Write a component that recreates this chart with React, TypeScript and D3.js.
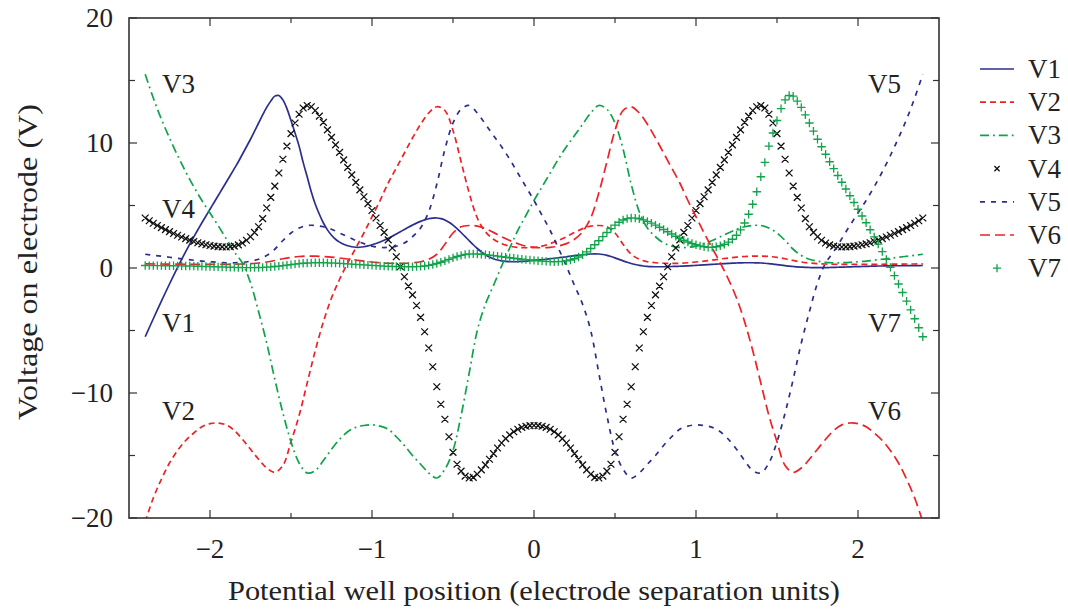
import React from 'react';
import * as d3 from 'd3';

// Electrode positions sampled on two grids (well position, electrode separation units)
const X_FINE: number[] = d3.range(193).map((i) => +(-2.4 + i * 0.025).toFixed(3));
const X_COARSE: number[] = d3.range(97).map((i) => +(-2.4 + i * 0.05).toFixed(2));

// V1 on fine grid
const V1: number[] = [
  -5.50, -4.78, -4.06, -3.35, -2.65, -1.96, -1.28, -0.61, 0.05, 0.69,
  1.31, 1.91, 2.49, 3.06, 3.62, 4.16, 4.70, 5.24, 5.78, 6.32,
  6.86, 7.40, 7.95, 8.50, 9.10, 9.70, 10.30, 10.95, 11.60, 12.25,
  12.85, 13.35, 13.75, 13.80, 13.45, 12.75, 11.80, 10.80, 9.75, 8.45,
  7.30, 6.10, 5.10, 4.30, 3.60, 3.05, 2.62, 2.30, 2.07, 1.90,
  1.78, 1.70, 1.66, 1.66, 1.70, 1.77, 1.86, 1.96, 2.08, 2.22,
  2.37, 2.54, 2.72, 2.90, 3.08, 3.26, 3.43, 3.59, 3.73, 3.85,
  3.94, 3.99, 4.00, 3.95, 3.84, 3.66, 3.43, 3.15, 2.84, 2.51,
  2.18, 1.86, 1.56, 1.29, 1.06, 0.88, 0.74, 0.64, 0.57, 0.53,
  0.51, 0.50, 0.51, 0.53, 0.55, 0.58,
  0.61,
  0.64, 0.67, 0.70, 0.74, 0.78, 0.82, 0.86, 0.90, 0.95, 0.99,
  1.03, 1.07, 1.10, 1.12, 1.13, 1.12, 1.08, 1.01, 0.92, 0.81,
  0.69, 0.57, 0.46, 0.36, 0.28, 0.21, 0.16, 0.13, 0.11, 0.10,
  0.10, 0.10, 0.11, 0.12, 0.13, 0.14, 0.15, 0.17, 0.19, 0.21,
  0.23, 0.25, 0.27, 0.29, 0.31, 0.33, 0.35, 0.37, 0.39, 0.40,
  0.41, 0.42, 0.42, 0.42, 0.41, 0.40, 0.38, 0.35, 0.31, 0.27,
  0.23, 0.19, 0.15, 0.12, 0.09, 0.07, 0.05, 0.04, 0.03, 0.03,
  0.03, 0.03, 0.04, 0.05, 0.06, 0.07, 0.08, 0.09, 0.10, 0.11,
  0.12, 0.13, 0.14, 0.15, 0.16, 0.16, 0.17, 0.17, 0.18, 0.18,
  0.18, 0.19, 0.19, 0.19, 0.19, 0.20,
];

// V2 on coarse grid
const V2: number[] = [
  -20.3, -18.4, -16.9, -15.6, -14.6, -13.8, -13.2, -12.7, -12.45, -12.4,
  -12.55, -13.0, -13.7, -14.5, -15.3, -16.0, -16.35, -15.8, -13.9, -11.8,
  -9.2, -6.6, -4.3, -2.4, -0.9, 0.4, 1.6, 2.8, 4.1, 5.4,
  6.8, 8.0, 9.2, 10.4, 11.5, 12.4, 12.9, 12.6, 11.0, 8.5,
  6.0, 4.0, 2.9, 2.3, 1.95, 1.75, 1.65, 1.62, 1.65,
  1.75, 1.95, 2.2, 2.5, 2.85, 3.15, 3.35, 3.4, 3.3, 2.8,
  1.9, 1.1, 0.7, 0.5, 0.42, 0.38, 0.37, 0.38, 0.42, 0.48,
  0.55, 0.63, 0.72, 0.8, 0.87, 0.92, 0.95, 0.95, 0.92, 0.85,
  0.74, 0.6, 0.48, 0.4, 0.35, 0.32, 0.3, 0.29, 0.29, 0.29,
  0.29, 0.3, 0.3, 0.31, 0.31, 0.32, 0.32, 0.33,
];

// V3 on coarse grid
const V3: number[] = [
  15.5, 13.6, 11.9, 10.4, 9.0, 7.7, 6.5, 5.4, 4.4, 3.4,
  2.35, 1.3, 0.4, -1.2, -3.5, -6.0, -8.9, -11.6, -13.9, -15.6,
  -16.4, -16.2, -15.4, -14.5, -13.7, -13.1, -12.75, -12.6, -12.55, -12.65,
  -12.9, -13.5, -14.2, -15.0, -15.7, -16.4, -16.8, -16.1, -14.6, -11.8,
  -8.4, -5.0, -2.9, -1.4, 0.15, 1.6, 3.0, 4.2, 5.4,
  6.5, 7.6, 8.7, 9.7, 10.6, 11.5, 12.4, 13.0, 12.7, 11.6,
  9.5, 6.7, 4.5, 3.2, 2.5, 2.0, 1.75, 1.65, 1.65, 1.75,
  1.95, 2.2, 2.5, 2.8, 3.1, 3.3, 3.4, 3.4, 3.2, 2.8,
  2.2, 1.5, 1.0, 0.7, 0.55, 0.45, 0.42, 0.42, 0.45, 0.5,
  0.55, 0.62, 0.7, 0.78, 0.86, 0.94, 1.02, 1.1,
];

// V4 on fine grid
const V4: number[] = [
  4.00, 3.78, 3.58, 3.40, 3.23, 3.07, 2.91, 2.76, 2.62, 2.48,
  2.35, 2.23, 2.12, 2.02, 1.93, 1.86, 1.80, 1.75, 1.71, 1.69,
  1.68, 1.70, 1.75, 1.85, 2.00, 2.22, 2.50, 2.85, 3.30, 3.95,
  4.80, 5.65, 6.55, 7.60, 8.70, 9.75, 10.75, 11.60, 12.30, 12.80,
  13.00, 12.90, 12.60, 12.15, 11.65, 11.05, 10.45, 9.85, 9.25, 8.65,
  8.05, 7.45, 6.85, 6.25, 5.70, 5.15, 4.60, 4.00, 3.40, 2.85,
  2.25, 1.60, 0.90, 0.10, -0.70, -1.45, -2.15, -3.00, -3.95, -5.10,
  -6.40, -7.90, -9.50, -10.90, -12.10, -13.50, -14.75, -15.70, -16.25, -16.65,
  -16.80, -16.75, -16.50, -16.15, -15.75, -15.30, -14.85, -14.40, -14.00, -13.65,
  -13.35, -13.10, -12.90, -12.75, -12.66, -12.61,
  -12.60,
  -12.61, -12.66, -12.75, -12.90, -13.10, -13.35,
  -13.65, -14.00, -14.40, -14.85, -15.30, -15.75, -16.15, -16.50, -16.75, -16.80,
  -16.65, -16.25, -15.70, -14.75, -13.50, -12.10, -10.90, -9.50, -7.90, -6.40,
  -5.10, -3.95, -3.00, -2.15, -1.45, -0.70, 0.10, 0.90, 1.60, 2.25,
  2.85, 3.40, 4.00, 4.60, 5.15, 5.70, 6.25, 6.85, 7.45, 8.05,
  8.65, 9.25, 9.85, 10.45, 11.05, 11.65, 12.15, 12.60, 12.90, 13.00,
  12.80, 12.30, 11.60, 10.75, 9.75, 8.70, 7.60, 6.55, 5.65, 4.80,
  3.95, 3.30, 2.85, 2.50, 2.22, 2.00, 1.85, 1.75, 1.70, 1.68,
  1.69, 1.71, 1.75, 1.80, 1.86, 1.93, 2.02, 2.12, 2.23, 2.35,
  2.48, 2.62, 2.76, 2.91, 3.07, 3.23, 3.40, 3.58, 3.78, 4.00,
];

// V5 on coarse grid
const V5: number[] = [
  1.1, 1.02, 0.94, 0.86, 0.78, 0.7, 0.62, 0.55, 0.5, 0.45,
  0.42, 0.42, 0.45, 0.55, 0.7, 1.0, 1.5, 2.2, 2.8, 3.2,
  3.4, 3.4, 3.3, 3.1, 2.8, 2.5, 2.2, 1.95, 1.75, 1.65,
  1.65, 1.75, 2.0, 2.5, 3.2, 4.5, 6.7, 9.5, 11.6, 12.7,
  13.0, 12.4, 11.5, 10.6, 9.7, 8.7, 7.6, 6.5, 5.4,
  4.2, 3.0, 1.6, 0.15, -1.4, -2.9, -5.0, -8.4, -11.8, -14.6,
  -16.1, -16.8, -16.4, -15.7, -15.0, -14.2, -13.5, -12.9, -12.65, -12.55,
  -12.6, -12.75, -13.1, -13.7, -14.5, -15.4, -16.2, -16.4, -15.6, -13.9,
  -11.6, -8.9, -6.0, -3.5, -1.2, 0.4, 1.3, 2.35, 3.4, 4.4,
  5.4, 6.5, 7.7, 9.0, 10.4, 11.9, 13.6, 15.5,
];

// V6 on coarse grid
const V6: number[] = [
  0.33, 0.32, 0.32, 0.31, 0.31, 0.3, 0.3, 0.29, 0.29, 0.29,
  0.29, 0.3, 0.32, 0.35, 0.4, 0.48, 0.6, 0.74, 0.85, 0.92,
  0.95, 0.95, 0.92, 0.87, 0.8, 0.72, 0.63, 0.55, 0.48, 0.42,
  0.38, 0.37, 0.38, 0.42, 0.5, 0.7, 1.1, 1.9, 2.8, 3.3,
  3.4, 3.35, 3.15, 2.85, 2.5, 2.2, 1.95, 1.75, 1.65, 1.62,
  1.65, 1.75, 1.95, 2.3, 2.9, 4.0, 6.0, 8.5, 11.0, 12.6,
  12.9, 12.4, 11.5, 10.4, 9.2, 8.0, 6.8, 5.4, 4.1, 2.8,
  1.6, 0.4, -0.9, -2.4, -4.3, -6.6, -9.2, -11.8, -13.9, -15.8,
  -16.35, -16.0, -15.3, -14.5, -13.7, -13.0, -12.55, -12.4, -12.45, -12.7,
  -13.2, -13.8, -14.6, -15.6, -16.9, -18.4, -20.3,
];

// V7 on fine grid
const V7: number[] = [
  0.20, 0.19, 0.19, 0.19, 0.19, 0.18, 0.18, 0.18, 0.17, 0.17,
  0.16, 0.16, 0.15, 0.14, 0.13, 0.12, 0.11, 0.10, 0.09, 0.08,
  0.07, 0.06, 0.05, 0.04, 0.03, 0.03, 0.03, 0.03, 0.04, 0.05,
  0.07, 0.09, 0.12, 0.15, 0.19, 0.23, 0.27, 0.31, 0.35, 0.38,
  0.40, 0.41, 0.42, 0.42, 0.42, 0.41, 0.40, 0.39, 0.37, 0.35,
  0.33, 0.31, 0.29, 0.27, 0.25, 0.23, 0.21, 0.19, 0.17, 0.15,
  0.14, 0.13, 0.12, 0.11, 0.10, 0.10, 0.10, 0.11, 0.13, 0.16,
  0.21, 0.28, 0.36, 0.46, 0.57, 0.69, 0.81, 0.92, 1.01, 1.08,
  1.12, 1.13, 1.12, 1.10, 1.07, 1.03, 0.99, 0.95, 0.90, 0.86,
  0.82, 0.78, 0.74, 0.70, 0.67, 0.64,
  0.61,
  0.58, 0.55, 0.53, 0.51, 0.50, 0.51, 0.53, 0.57, 0.64, 0.74,
  0.88, 1.06, 1.29, 1.56, 1.86, 2.18, 2.51, 2.84, 3.15, 3.43,
  3.66, 3.84, 3.95, 4.00, 3.99, 3.94, 3.85, 3.73, 3.59, 3.43,
  3.26, 3.08, 2.90, 2.72, 2.54, 2.37, 2.22, 2.08, 1.96, 1.86,
  1.77, 1.70, 1.66, 1.66, 1.70, 1.78, 1.90, 2.07, 2.30, 2.62,
  3.05, 3.60, 4.30, 5.10, 6.10, 7.30, 8.45, 9.75, 10.80, 11.80,
  12.75, 13.45, 13.80, 13.75, 13.35, 12.85, 12.25, 11.60, 10.95, 10.30,
  9.70, 9.10, 8.50, 7.95, 7.40, 6.86, 6.32, 5.78, 5.24, 4.70,
  4.16, 3.62, 3.06, 2.49, 1.91, 1.31, 0.69, 0.05, -0.61, -1.28,
  -1.96, -2.65, -3.35, -4.06, -4.78, -5.50,
];

const SERIES_NAMES = ['V1', 'V2', 'V3', 'V4', 'V5', 'V6', 'V7'];
const X_MAJOR_TICKS = [-2, -1, 0, 1, 2];
const X_MINOR_TICKS = [-1.5, -0.5, 0.5, 1.5];
const X_TICK_LABELS = ['\u22122', '\u22121', '0', '1', '2'];
const Y_MAJOR_TICKS = [-20, -10, 0, 10, 20];
const Y_MINOR_TICKS = [-15, -5, 5, 15];
const Y_TICK_LABELS = ['\u221220', '\u221210', '0', '10', '20'];

const NAVY = '#2b2f8c';
const RED = '#ec2227';
const GREEN = '#10a34a';
const INK = '#222';
const FONT = '"Liberation Serif", "DejaVu Serif", "Times New Roman", serif';

type Style = {
  name: string;
  xs: number[];
  vs: number[];
  color: string;
  dash?: string;
  marker?: 'x' | '+';
};

const STYLES: Style[] = [
  { name: SERIES_NAMES[0], xs: X_FINE, vs: V1, color: NAVY },
  { name: SERIES_NAMES[1], xs: X_COARSE, vs: V2, color: RED, dash: '6,4' },
  { name: SERIES_NAMES[2], xs: X_COARSE, vs: V3, color: GREEN, dash: '9,4,1.8,4' },
  { name: SERIES_NAMES[3], xs: X_FINE, vs: V4, color: '#111', marker: 'x' },
  { name: SERIES_NAMES[4], xs: X_COARSE, vs: V5, color: NAVY, dash: '5,6' },
  { name: SERIES_NAMES[5], xs: X_COARSE, vs: V6, color: RED, dash: '10,5' },
  { name: SERIES_NAMES[6], xs: X_FINE, vs: V7, color: GREEN, marker: '+' },
];

function markerPath(kind: 'x' | '+', cx: number, cy: number, s: number): string {
  if (kind === 'x') {
    return `M${cx - s},${cy - s}L${cx + s},${cy + s}M${cx - s},${cy + s}L${cx + s},${cy - s}`;
  }
  return `M${cx - s},${cy}L${cx + s},${cy}M${cx},${cy - s}L${cx},${cy + s}`;
}

export default function App() {
  const W = 1068;
  const H = 612;
  const L = 129, R = 939, T = 18, B = 518;
  const x = d3.scaleLinear().domain([-2.5, 2.5]).range([L, R]);
  const y = d3.scaleLinear().domain([-20, 20]).range([B, T]);

  const lineFor = (xs: number[], vs: number[]) =>
    d3
      .line<number>()
      .x((_, i) => x(xs[i]))
      .y((v) => y(v))
      .curve(d3.curveCatmullRom.alpha(0.5))(vs) || '';

  const fs = 27;
  const legendX0 = 980, legendX1 = 1014, legendTextX = 1028;
  const legendBase = 78, legendStep = 33.2;

  const inLabels = [
    { t: 'V3', x: 162, y: 93 },
    { t: 'V4', x: 162, y: 218 },
    { t: 'V1', x: 162, y: 332 },
    { t: 'V2', x: 162, y: 420 },
    { t: 'V5', x: 868, y: 93 },
    { t: 'V7', x: 868, y: 332 },
    { t: 'V6', x: 868, y: 420 },
  ];

  const textStyle: React.CSSProperties = { fontFamily: FONT };

  return (
    <div style={{ position: 'absolute', left: 0, top: 0 }}>
      <svg width={W} height={H} style={{ display: 'block', background: '#fff', fontFamily: FONT }}>
        <defs>
          <clipPath id="plotclip">
            <rect x={L} y={T} width={R - L} height={B - T} />
          </clipPath>
        </defs>

        {/* series */}
        <g clipPath="url(#plotclip)">
          {STYLES.map((s) =>
            s.marker ? (
              <path
                key={s.name}
                d={s.vs.map((v, i) => markerPath(s.marker!, x(s.xs[i]), y(v), s.marker === 'x' ? 3.4 : 4.2)).join('')}
                stroke={s.color}
                strokeWidth={1.3}
                fill="none"
              />
            ) : (
              <path
                key={s.name}
                d={lineFor(s.xs, s.vs)}
                stroke={s.color}
                strokeWidth={1.7}
                strokeDasharray={s.dash}
                fill="none"
              />
            )
          )}
        </g>

        {/* frame */}
        <rect x={L} y={T} width={R - L} height={B - T} fill="none" stroke="#333" strokeWidth={1.6} />

        {/* ticks */}
        <g stroke="#333" strokeWidth={1.2}>
          {X_MAJOR_TICKS.map((t) => (
            <g key={'xM' + t}>
              <line x1={x(t)} x2={x(t)} y1={B} y2={B - 8} />
              <line x1={x(t)} x2={x(t)} y1={T} y2={T + 8} />
            </g>
          ))}
          {X_MINOR_TICKS.map((t) => (
            <g key={'xm' + t}>
              <line x1={x(t)} x2={x(t)} y1={B} y2={B - 5} />
              <line x1={x(t)} x2={x(t)} y1={T} y2={T + 5} />
            </g>
          ))}
          {Y_MAJOR_TICKS.map((t) => (
            <g key={'yM' + t}>
              <line x1={L} x2={L + 8} y1={y(t)} y2={y(t)} />
              <line x1={R} x2={R - 8} y1={y(t)} y2={y(t)} />
            </g>
          ))}
          {Y_MINOR_TICKS.map((t) => (
            <g key={'ym' + t}>
              <line x1={L} x2={L + 6} y1={y(t)} y2={y(t)} />
              <line x1={R} x2={R - 6} y1={y(t)} y2={y(t)} />
            </g>
          ))}
        </g>

        {/* tick labels */}
        <g fill={INK} fontSize={fs} style={textStyle}>
          {X_MAJOR_TICKS.map((t, i) => (
            <text key={'xl' + t} x={x(t)} y={558} textAnchor="middle">
              {X_TICK_LABELS[i]}
            </text>
          ))}
          {Y_MAJOR_TICKS.map((t, i) => (
            <text key={'yl' + t} x={113} y={y(t) + 9} textAnchor="end">
              {Y_TICK_LABELS[i]}
            </text>
          ))}
        </g>

        {/* axis titles */}
        <text
          x={534}
          y={600}
          textAnchor="middle"
          fontSize={28}
          fill={INK}
          style={textStyle}
          textLength={612}
          lengthAdjust="spacingAndGlyphs"
        >
          Potential well position (electrode separation units)
        </text>
        <text
          transform={`translate(37,262) rotate(-90)`}
          textAnchor="middle"
          fontSize={28}
          fill={INK}
          style={textStyle}
          textLength={316}
          lengthAdjust="spacingAndGlyphs"
        >
          Voltage on electrode (V)
        </text>

        {/* in-plot labels */}
        <g fill={INK} fontSize={fs} style={textStyle}>
          {inLabels.map((l) => (
            <text key={l.t + l.x} x={l.x} y={l.y}>
              {l.t}
            </text>
          ))}
        </g>

        {/* legend */}
        <g>
          {STYLES.map((s, i) => {
            const by = legendBase + i * legendStep;
            const cy = by - 9;
            const cx = (legendX0 + legendX1) / 2;
            return (
              <g key={'lg' + s.name}>
                {s.marker ? (
                  <path
                    d={markerPath(s.marker, cx, cy, s.marker === 'x' ? 2.6 : 4)}
                    stroke={s.color}
                    strokeWidth={1.3}
                    fill="none"
                  />
                ) : (
                  <line
                    x1={legendX0}
                    x2={legendX1}
                    y1={cy}
                    y2={cy}
                    stroke={s.color}
                    strokeWidth={1.7}
                    strokeDasharray={s.dash}
                  />
                )}
                <text x={legendTextX} y={by} fontSize={fs} fill={INK} style={textStyle}>
                  {s.name}
                </text>
              </g>
            );
          })}
        </g>
      </svg>
    </div>
  );
}
